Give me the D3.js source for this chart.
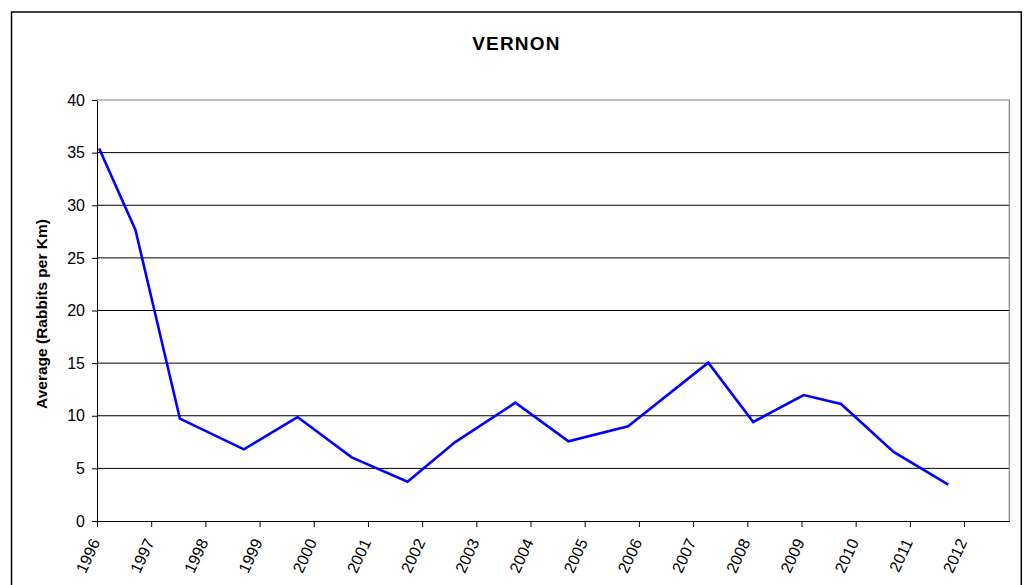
<!DOCTYPE html>
<html><head><meta charset="utf-8">
<script src="https://cdn.jsdelivr.net/npm/d3@7"></script>
<style>
html,body{margin:0;padding:0;background:#fff;}
svg{display:block;font-family:"Liberation Sans",Arial,sans-serif;}
</style></head>
<body>
<svg id="c" width="1029" height="585"></svg>
<script>
// Data (decimal year positions of each survey, average rabbits per km)
const surveyYears = [1996.04, 1996.71, 1997.53, 1998.71, 1999.70, 2000.70, 2001.73, 2002.61, 2003.72, 2004.70, 2005.80, 2007.28, 2008.11, 2009.04, 2009.73, 2010.70, 2011.71];
const averages    = [35.4, 27.65, 9.72, 6.81, 9.88, 6.05, 3.73, 7.5, 11.24, 7.57, 9.0, 15.04, 9.41, 11.97, 11.12, 6.56, 3.45];
const xTickYears  = [1996,1997,1998,1999,2000,2001,2002,2003,2004,2005,2006,2007,2008,2009,2010,2011,2012];
const yTicks      = [0,5,10,15,20,25,30,35,40];
const title = "VERNON";
const yLabel = "Average (Rabbits per Km)";

const svg = d3.select("#c");
const L = 97, R = 1009.3, T = 100, B = 521;

// outer chart border
svg.append("rect").attr("x",11.5).attr("y",12).attr("width",1009.8).attr("height",600)
  .attr("fill","none").attr("stroke","#000").attr("stroke-width",1.5);

const x = d3.scaleLinear().domain([1996, 2012.835]).range([L, R]);
const y = d3.scaleLinear().domain([0, 40]).range([B, T]);

// gridlines
svg.append("g").selectAll("line").data(yTicks.filter(d=>d>0 && d<40)).join("line")
  .attr("x1",L).attr("x2",R).attr("y1",d=>y(d)).attr("y2",d=>y(d))
  .attr("stroke","#000").attr("stroke-width",1);

// plot area border (gray) top & right
svg.append("path").attr("d",`M${L},${T}H${R}V${B}`).attr("fill","none")
  .attr("stroke","#808080").attr("stroke-width",1.2);

// y axis
const gy = svg.append("g").attr("transform",`translate(${L},0)`)
  .call(d3.axisLeft(y).tickValues(yTicks).tickSize(5).tickPadding(7).tickSizeOuter(0));
gy.select(".domain").attr("stroke","#000");
gy.selectAll(".tick line").attr("stroke","#000");
gy.selectAll("text").attr("font-size",16).attr("fill","#000").attr("font-family","Liberation Sans, Arial, sans-serif");

// x axis
const gx = svg.append("g").attr("transform",`translate(0,${B})`)
  .call(d3.axisBottom(x).tickValues(xTickYears).tickFormat(d3.format("d")).tickSize(6).tickSizeOuter(0));
gx.select(".domain").attr("stroke","#000");
gx.selectAll(".tick line").attr("stroke","#000");
gx.selectAll("text")
  .attr("font-size",16).attr("fill","#000").attr("font-family","Liberation Sans, Arial, sans-serif")
  .attr("text-anchor","end").attr("dy",null).attr("y",null)
  .attr("transform","translate(3,21) rotate(-65)");

// line
const line = d3.line().x((d,i)=>x(surveyYears[i])).y(d=>y(d));
svg.append("path").datum(averages).attr("d",line)
  .attr("fill","none").attr("stroke","#0000FF").attr("stroke-width",2.6)
  .attr("stroke-linejoin","miter");

// title
svg.append("text").attr("x",516.4).attr("y",49.5).attr("text-anchor","middle")
  .attr("font-size",19).attr("font-weight","bold").attr("letter-spacing","1.2px").text(title);

// y label
svg.append("text").attr("transform","translate(47,314) rotate(-90)").attr("text-anchor","middle")
  .attr("font-size",15.5).attr("font-weight","bold").text(yLabel);
</script>
</body></html>
